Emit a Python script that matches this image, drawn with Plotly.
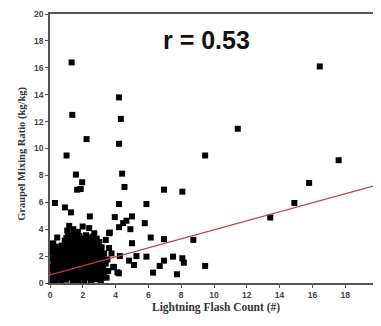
import plotly.graph_objects as go

# Scattered points
outlier_x = [1.32, 1.36, 2.23, 4.21, 4.32, 4.21, 11.45, 16.45, 1.01, 9.46, 1.58, 4.40,
             1.96, 1.66, 1.87, 4.54, 6.95, 8.07, 0.30, 0.91, 4.21, 5.88, 1.28, 2.43,
             3.95, 5.00, 4.66, 4.46, 4.21, 5.78, 4.90, 1.17, 1.42, 1.99, 2.39, 0.44,
             6.14, 6.95, 8.74, 5.00, 3.65, 5.27, 5.88, 7.50, 8.07, 6.95, 8.16, 4.82,
             5.12, 6.69, 9.46, 3.85, 4.11, 6.28, 7.74, 4.26, 17.6, 15.8, 14.9, 13.43,
             3.60, 3.90, 4.20]
outlier_y = [16.4, 12.5, 10.7, 13.8, 12.2, 10.35, 11.47, 16.1, 9.48, 9.48, 8.06, 8.13,
             7.49, 6.94, 6.99, 7.14, 6.94, 6.79, 5.95, 5.62, 5.87, 5.87, 5.25, 4.95,
             4.90, 4.95, 4.63, 4.45, 4.15, 4.45, 4.00, 4.25, 4.00, 4.20, 4.08, 3.38,
             3.38, 3.26, 3.21, 2.96, 3.75, 2.00, 1.96, 1.96, 1.84, 1.66, 1.51, 1.66,
             1.34, 1.27, 1.27, 1.17, 0.80, 0.77, 0.65, 2.00, 9.13, 7.44, 5.95, 4.87,
             3.70, 1.20, 0.72]

# Dense cluster near the origin (read approximately from the black blob)
cluster_x = [0.05, 0.35, 0.70, 1.00, 1.40, 1.75, 2.10, 2.50, 2.85, 3.10,
             0.20, 0.55, 0.90, 1.25, 1.60, 1.95, 2.30, 2.65, 3.00, 3.30,
             0.10, 0.45, 0.80, 1.15, 1.50, 1.85, 2.20, 2.55, 2.90, 3.25,
             0.25, 0.60, 0.95, 1.30, 1.65, 2.00, 2.35, 2.70, 3.05, 3.40,
             0.05, 0.40, 0.75, 1.10, 1.45, 1.80, 2.15, 2.50, 2.85, 3.20, 3.50,
             0.15, 0.50, 0.85, 1.20, 1.55, 1.90, 2.25, 2.60, 2.95, 3.30,
             0.05, 0.35, 0.70, 1.05, 1.40, 1.75, 2.10, 2.45, 2.80, 3.15,
             0.90, 1.25, 1.60, 1.95, 2.30, 2.65, 3.00,
             1.10, 1.45, 1.80, 2.20, 2.60,
             0.05, 1.05, 1.70, 2.70, 3.40, 3.60, 3.75, 3.45, 3.55, 0.15,
             0.15, 0.50, 0.85, 1.20, 1.55, 1.90, 2.25, 2.60, 2.95, 3.20,
             0.30, 0.65, 1.00, 1.35, 1.70, 2.05, 2.40, 2.75, 3.10,
             0.05, 0.40, 0.75, 1.10, 1.45, 1.80, 2.15, 2.50, 2.85, 3.20,
             0.20, 0.55, 0.90, 1.25, 1.60, 1.95, 2.30, 2.65, 3.00, 3.35,
             0.30, 0.65, 1.00, 1.35, 1.70, 2.05, 2.40, 2.75, 3.10,
             0.30, 0.65, 1.00, 1.35, 1.70, 2.05, 2.40, 2.75, 3.10,
             0.20, 0.95, 1.30, 1.65, 2.00, 2.35, 2.70, 3.00,
             1.00, 1.40, 1.75, 2.10, 2.45, 2.85]
cluster_y = [0.15, 0.20, 0.12, 0.25, 0.18, 0.22, 0.10, 0.20, 0.28, 0.15,
             0.60, 0.55, 0.65, 0.58, 0.62, 0.55, 0.60, 0.65, 0.58, 0.62,
             1.00, 1.05, 0.95, 1.02, 0.98, 1.05, 1.00, 0.95, 1.02, 1.00,
             1.40, 1.45, 1.38, 1.42, 1.45, 1.40, 1.35, 1.42, 1.40, 1.45,
             1.85, 1.80, 1.88, 1.82, 1.85, 1.90, 1.80, 1.85, 1.88, 1.82, 1.75,
             2.30, 2.25, 2.32, 2.28, 2.35, 2.30, 2.25, 2.32, 2.28, 2.20,
             2.75, 2.70, 2.78, 2.72, 2.80, 2.75, 2.70, 2.78, 2.72, 2.65,
             3.15, 3.20, 3.12, 3.18, 3.15, 3.10, 3.05,
             3.55, 3.60, 3.50, 3.55, 3.45,
             2.90, 3.90, 3.80, 3.70, 3.20, 2.60, 2.20, 0.40, 0.90, 2.45,
             0.40, 0.38, 0.42, 0.40, 0.36, 0.42, 0.40, 0.38, 0.42, 0.40,
             0.80, 0.82, 0.78, 0.80, 0.84, 0.80, 0.78, 0.82, 0.80,
             1.20, 1.22, 1.18, 1.20, 1.24, 1.20, 1.18, 1.22, 1.20, 1.18,
             1.62, 1.60, 1.64, 1.60, 1.62, 1.58, 1.62, 1.60, 1.64, 1.60,
             2.05, 2.08, 2.04, 2.06, 2.02, 2.08, 2.05, 2.04, 2.00,
             2.50, 2.52, 2.48, 2.52, 2.50, 2.55, 2.48, 2.50, 2.45,
             2.95, 2.98, 2.95, 2.92, 2.98, 2.95, 2.92, 2.88,
             3.35, 3.38, 3.35, 3.32, 3.36, 3.30]

# Linear fit line
fit_x = [0, 20]
fit_y = [0.6, 7.3]

x_ticks = [0, 2, 4, 6, 8, 10, 12, 14, 16, 18, 20]
y_ticks = [0, 2, 4, 6, 8, 10, 12, 14, 16, 18, 20]

fig = go.Figure()
fig.add_trace(go.Scatter(x=cluster_x + outlier_x, y=cluster_y + outlier_y, mode="markers",
                         marker=dict(symbol="square", size=6, color="black"),
                         showlegend=False))
fig.add_trace(go.Scatter(x=fit_x, y=fit_y, mode="lines",
                         line=dict(color="rgb(205,60,60)", width=1.3), showlegend=False))

fig.add_annotation(x=9.57, y=18.1, xref="x", yref="y", text="r = 0.53", showarrow=False,
                   font=dict(family="Liberation Sans, Arial", size=25, color="#111", weight="bold"))

xtitlefont = dict(family="Liberation Serif, Times New Roman", size=11.5, color="#333", weight="bold")
ytitlefont = dict(family="Liberation Serif, Times New Roman", size=10.5, color="#333", weight="bold")
fig.add_annotation(x=0.506, y=-0.09, xref="paper", yref="paper", text="Lightning Flash Count (#)",
                   showarrow=False, xanchor="center", yanchor="middle", font=xtitlefont)
fig.add_annotation(x=-0.0854, y=0.48, xref="paper", yref="paper", text="Graupel Mixing Ratio (kg/kg)",
                   showarrow=False, xanchor="center", yanchor="middle", textangle=-90, font=ytitlefont)

tickfont = dict(family="Liberation Sans, Arial", size=8.5, color="#444", weight="bold")

fig.update_xaxes(range=[0, 20], tickvals=x_ticks, ticktext=[str(v) for v in x_ticks],
                 showgrid=False, zeroline=False, showline=True, linecolor="#555", linewidth=1.5,
                 mirror=True, ticks="outside", ticklen=3, tickcolor="#555", tickfont=tickfont,
                 automargin=False)
fig.update_yaxes(range=[0, 20], tickvals=y_ticks, ticktext=[str(v) for v in y_ticks],
                 showgrid=False, zeroline=False, showline=True, linecolor="#555", linewidth=1.5,
                 mirror=True, ticks="outside", ticklen=3, tickcolor="#555", tickfont=tickfont,
                 automargin=False)

# page body has an 8px margin; size the figure so the plot area lands where the reference has it
fig.update_layout(width=373, height=306, margin=dict(l=42, r=3, t=6, b=31),
                  plot_bgcolor="white", paper_bgcolor="white")

fig.write_html("out.html")
